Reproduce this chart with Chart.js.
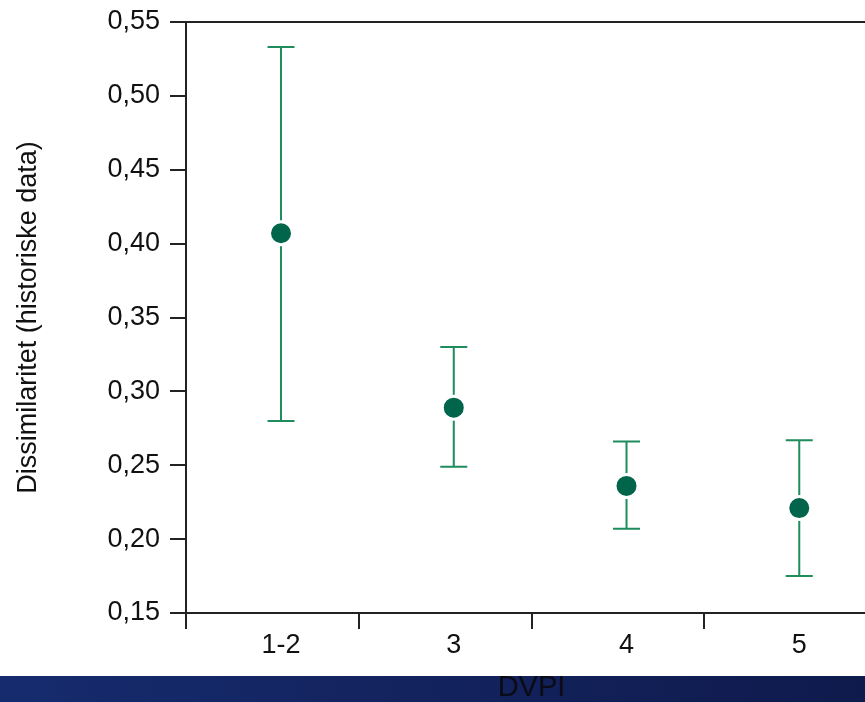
<!DOCTYPE html>
<html>
<head>
<meta charset="utf-8">
<script src="https://cdn.jsdelivr.net/npm/chart.js@4"></script>
<style>
  html, body { margin: 0; padding: 0; background: #fff; overflow: hidden; }
  canvas { display: block; }
</style>
</head>
<body>
<canvas id="dvpiChart" width="877" height="702"></canvas>
<script>
var categories = ['1-2', '3', '4', '5'];
var positions = [1, 2, 3, 4];
var means = [0.407, 0.289, 0.236, 0.221];
var upper = [0.533, 0.330, 0.266, 0.267];
var lower = [0.280, 0.249, 0.207, 0.175];
var yTicks = [0.15, 0.20, 0.25, 0.30, 0.35, 0.40, 0.45, 0.50, 0.55];
var boundaries = [0.45, 1.45, 2.45, 3.45, 4.45];

var axisColor = '#222222';
var errColor = '#1f8c5e';
var pointColor = '#00654a';
var font = 'Liberation Sans, Arial, sans-serif';

var points = [];
for (var i = 0; i < positions.length; i++) {
    points.push({ x: positions[i], y: means[i] });
}

// blue band behind the x axis title
var bandPlugin = {
    id: 'band',
    beforeDraw: function (chart) {
        var c = chart.ctx;
        var g = c.createLinearGradient(0, 0, chart.width, 0);
        g.addColorStop(0, '#162b6e');
        g.addColorStop(1, '#0f1a4c');
        c.save();
        c.fillStyle = g;
        c.fillRect(0, 676, chart.width, chart.height - 676);
        c.restore();
    }
};

// error bars from the upper / lower arrays
var errorBars = {
    id: 'errorBars',
    beforeDatasetsDraw: function (chart) {
        var c = chart.ctx;
        var xs = chart.scales.x;
        var ys = chart.scales.y;
        c.save();
        c.strokeStyle = errColor;
        c.lineWidth = 2;
        for (var i = 0; i < positions.length; i++) {
            var px = xs.getPixelForValue(positions[i]);
            var top = ys.getPixelForValue(upper[i]);
            var bot = ys.getPixelForValue(lower[i]);
            c.beginPath();
            c.moveTo(px, top);
            c.lineTo(px, bot);
            c.moveTo(px - 13.5, top);
            c.lineTo(px + 13.5, top);
            c.moveTo(px - 13.5, bot);
            c.lineTo(px + 13.5, bot);
            c.stroke();
        }
        c.restore();
    }
};

var ctx = document.getElementById('dvpiChart').getContext('2d');
var myChart = new Chart(ctx, {
    type: 'scatter',
    data: {
        datasets: [{
            data: points,
            pointRadius: 11.5,
            pointHoverRadius: 11.5,
            pointBackgroundColor: pointColor,
            pointBorderColor: '#ffffff',
            pointBorderWidth: 3
        }]
    },
    options: {
        responsive: false,
        animation: false,
        events: [],
        layout: { autoPadding: false, padding: 0 },
        plugins: {
            legend: { display: false },
            tooltip: { enabled: false }
        },
        scales: {
            x: {
                type: 'linear',
                position: 'bottom',
                min: boundaries[0],
                max: boundaries[boundaries.length - 1],
                afterBuildTicks: function (scale) {
                    var vals = boundaries.concat(positions).sort(function (a, b) { return a - b; });
                    scale.ticks = vals.map(function (v) { return { value: v }; });
                },
                afterFit: function (scale) {
                    scale.height = 89;
                    scale.paddingLeft = 0;
                    scale.paddingRight = 0;
                },
                ticks: {
                    autoSkip: false,
                    maxRotation: 0,
                    padding: 0,
                    color: '#111111',
                    font: { family: font, size: 27 },
                    callback: function (v) {
                        var idx = positions.indexOf(v);
                        return idx >= 0 ? categories[idx] : '';
                    }
                },
                grid: {
                    drawOnChartArea: false,
                    tickLength: 16,
                    lineWidth: 2,
                    tickColor: function (c) {
                        return positions.indexOf(c.tick.value) >= 0 ? 'rgba(0,0,0,0)' : axisColor;
                    }
                },
                border: { display: true, color: axisColor, width: 2 },
                title: {
                    display: true,
                    text: 'DVPI',
                    color: '#0b0b16',
                    font: { family: font, size: 29, lineHeight: 1.0 },
                    padding: { top: 0, bottom: 0 }
                }
            },
            x2: {
                type: 'linear',
                position: 'top',
                display: true,
                afterFit: function (scale) { scale.height = 22; },
                ticks: { display: false },
                grid: { display: false },
                border: { display: true, color: axisColor, width: 2 }
            },
            y: {
                min: 0.15,
                max: 0.55,
                afterBuildTicks: function (scale) {
                    scale.ticks = yTicks.map(function (v) { return { value: v }; });
                },
                afterFit: function (scale) {
                    scale.width = 186;
                    scale.paddingTop = 0;
                    scale.paddingBottom = 0;
                },
                ticks: {
                    padding: 10,
                    color: '#111111',
                    font: { family: font, size: 27 },
                    callback: function (v) { return v.toFixed(2).replace('.', ','); }
                },
                grid: {
                    drawOnChartArea: false,
                    tickLength: 16,
                    lineWidth: 2,
                    color: axisColor
                },
                border: { display: true, color: axisColor, width: 2 },
                title: {
                    display: true,
                    text: 'Dissimilaritet (historiske data)',
                    color: '#111111',
                    font: { family: font, size: 27 },
                    padding: { top: 12, bottom: 0 }
                }
            }
        }
    },
    plugins: [bandPlugin, errorBars]
});
</script>
</body>
</html>
